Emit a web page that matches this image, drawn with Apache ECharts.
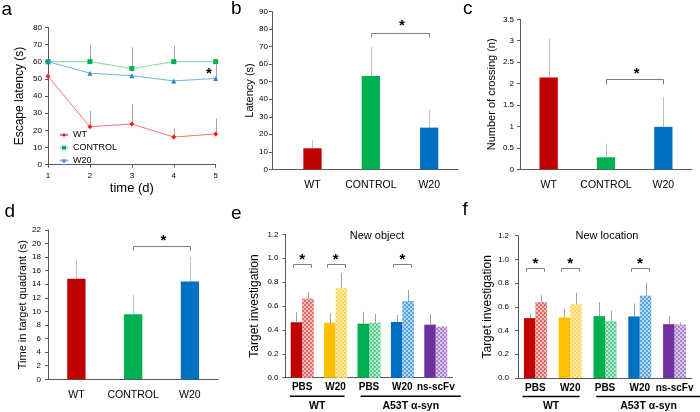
<!DOCTYPE html>
<html><head><meta charset="utf-8">
<script src="https://cdn.jsdelivr.net/npm/echarts@6/dist/echarts.min.js"></script>
<style>html,body{margin:0;padding:0;background:#fff}#c{width:700px;height:412px}</style>
</head><body><div id="c"></div>
<script>
// ================= DATA =================
// panel a: escape latency by day
const aDays = [1, 2, 3, 4, 5];
const aWT = [51.5, 22.1, 23.7, 16.1, 17.9];
const aWTErrTop = [51.5, 31.4, 35.2, 21.0, 27.0];
const aCTRL = [60, 60, 56, 60, 60];
const aCTRLErrTop = [60, 69.7, 68.4, 69.1, 60];
const aW20 = [60, 53.3, 51.8, 48.8, 50.2];
const aW20ErrTop = [60, 53.3, 51.8, 48.8, 60];
const aStar = [4.84, 55];
const aSeriesNames = ['WT', 'CONTROL', 'W20'];

// panels b, c, d
const barCats = ['WT', 'CONTROL', 'W20'];
const bVals = [12.0, 53.3, 23.8];
const bErrTop = [16.5, 69.8, 33.9];
const bBracket = [2, 3, 77.7, 75.2, 83.5];     // from, to, line, tick end, star
const cVals = [2.14, 0.28, 0.99];
const cErrTop = [3.04, 0.6, 1.69];
const cBracket = [1, 2, 2.1, 1.98, 2.31];
const dVals = [14.8, 9.6, 14.4];
const dErrTop = [17.7, 12.4, 18.0];
const dBracket = [1, 2, 19.64, 18.95, 20.8];

// panels e, f
const efCats = ['PBS', 'W20', 'PBS', 'W20', 'ns-scFv'];
const efGroups = ['WT', 'A53T α-syn'];
const efGroupSpan = [[0, 1], [2, 4]];
const eSolid = [0.464, 0.46, 0.452, 0.466, 0.444];
const eSolidErrTop = [0.547, 0.539, 0.552, 0.525, 0.533];
const eHatch = [0.661, 0.748, 0.46, 0.642, 0.427];
const eHatchErrTop = [0.715, 0.874, 0.533, 0.734, 0.433];
const eSig = [[0, 0.95, 0.92, 1.01], [1, 0.95, 0.92, 1.01], [3, 0.95, 0.92, 1.01]];
const fSolid = [0.505, 0.51, 0.522, 0.519, 0.454];
const fSolidErrTop = [0.538, 0.581, 0.64, 0.629, 0.522];
const fHatch = [0.64, 0.623, 0.479, 0.693, 0.451];
const fHatchErrTop = [0.699, 0.719, 0.566, 0.803, 0.468];
const fSig = [[0, 0.93, 0.897, 0.987], [1, 0.93, 0.897, 0.987], [3, 0.93, 0.897, 0.987]];

// ================= STYLE =================
const FONT = '"Liberation Sans", Arial, sans-serif';
const AX = '#595959';
const barColors = ['#c00000', '#00b050', '#0070c0'];
const efSolidColors = ['#c00000', '#ffc000', '#00b050', '#0070c0', '#7030a0'];
const efHatchColors = ['#e26a6a', '#ffd452', '#58cd8b', '#58a4de', '#a884cf'];
const EF_BW = 11.5;
const BRK_HALF = 9;
const GROUP_PAD = [[0.37, 0.27], [0.25, 0.75]];

const hatchDecal = {
  symbol: 'rect', symbolSize: 1, color: 'rgba(255,255,255,0.55)',
  dashArrayX: [[2, 2], [0, 2, 2, 0]], dashArrayY: [2, 0], rotation: 0
};

function crisp(v) { return Math.round(v) + 0.5; }

function errSeries(xi, items, color) {
  return {
    type: 'custom', xAxisIndex: xi, yAxisIndex: xi, z: 1, silent: true,
    encode: { x: 0, y: [1, 2] },
    data: items.filter(d => d[2] > d[1]),
    renderItem(params, api) {
      const p0 = api.coord([api.value(0), api.value(1)]);
      const p1 = api.coord([api.value(0), api.value(2)]);
      const x = crisp(p0[0] + api.value(3));
      return { type: 'line', shape: { x1: x, y1: p0[1], x2: x, y2: p1[1] },
        style: { stroke: color, lineWidth: 1 } };
    }
  };
}

function starText(x, y) {
  return { type: 'text', style: { text: '*', x: x, y: y + 3.2, fontSize: 15, fontWeight: 'bold',
    fontFamily: FONT, fill: '#000', align: 'center', verticalAlign: 'middle' } };
}

function bracketSeries(xi, items) {
  return {
    type: 'custom', xAxisIndex: xi, yAxisIndex: xi, z: 5, silent: true,
    encode: { x: [0, 1], y: [2, 3] },
    data: items,
    renderItem(params, api) {
      const a = api.coord([api.value(0), api.value(2)]);
      const b = api.coord([api.value(1), api.value(2)]);
      const t = api.coord([api.value(0), api.value(3)]);
      const s = api.coord([api.value(0), api.value(4)]);
      const y = crisp(a[1]);
      return { type: 'group', children: [
        { type: 'polyline', shape: { points: [[crisp(a[0]), t[1]], [crisp(a[0]), y], [crisp(b[0]), y], [crisp(b[0]), t[1]]] },
          style: { stroke: '#7f7f7f', lineWidth: 1, fill: null } },
        starText((a[0] + b[0]) / 2 + 2, s[1])
      ] };
    }
  };
}

function pairBracketSeries(xi, items) {
  return {
    type: 'custom', xAxisIndex: xi, yAxisIndex: xi, z: 5, silent: true,
    encode: { x: 0, y: [1, 2] },
    data: items,
    renderItem(params, api) {
      const c = api.coord([api.value(0), api.value(1)]);
      const t = api.coord([api.value(0), api.value(2)]);
      const s = api.coord([api.value(0), api.value(3)]);
      const y = crisp(c[1]);
      const x1 = crisp(c[0] - BRK_HALF), x2 = crisp(c[0] + BRK_HALF);
      return { type: 'group', children: [
        { type: 'polyline', shape: { points: [[x1, t[1]], [x1, y], [x2, y], [x2, t[1]]] },
          style: { stroke: '#7f7f7f', lineWidth: 1, fill: null } },
        starText(c[0], s[1])
      ] };
    }
  };
}

function groupSeries(xi) {
  return {
    type: 'custom', xAxisIndex: xi, yAxisIndex: xi, z: 5, silent: true,
    encode: { x: [0, 1] },
    data: efGroupSpan.map((s, i) => [s[0], s[1], i]),
    renderItem(params, api) {
      const i = api.value(2);
      const band = api.size([1, 0])[0];
      const a = api.coord([api.value(0), 0]);
      const b = api.coord([api.value(1), 0]);
      const x1 = a[0] - GROUP_PAD[i][0] * band, x2 = b[0] + GROUP_PAD[i][1] * band;
      const y0 = a[1];
      return { type: 'group', children: [
        { type: 'line', shape: { x1: x1, y1: y0 + 18.5, x2: x2, y2: y0 + 18.5 }, style: { stroke: '#000', lineWidth: 1.6 } },
        { type: 'text', style: { text: efGroups[i], x: (x1 + x2) / 2, y: y0 + 28.5, fontSize: 10.5, fontWeight: 'bold',
          fontFamily: FONT, fill: '#000', align: 'center', verticalAlign: 'middle' } }
      ] };
    }
  };
}

function yAx(gi, min, max, interval, name, nameGap, nameSize, margin, fmt) {
  return {
    type: 'value', gridIndex: gi, min: min, max: max, interval: interval,
    name: name, nameLocation: 'middle', nameGap: nameGap, nameRotate: 90,
    nameTextStyle: { fontSize: nameSize, color: '#000', fontFamily: FONT },
    axisLine: { show: true, lineStyle: { color: AX, width: 1 } },
    axisTick: { show: true, length: 3, lineStyle: { color: AX } },
    axisLabel: { fontSize: 8, color: '#000', margin: margin, fontFamily: FONT, formatter: fmt },
    splitLine: { show: false }
  };
}

function catX(gi, data, fontSize, margin, bold) {
  return {
    type: 'category', gridIndex: gi, data: data,
    axisLine: { show: true, lineStyle: { color: AX, width: 1 } },
    axisTick: { show: false },
    axisLabel: { fontSize: fontSize, color: '#000', margin: margin, fontFamily: FONT,
      fontWeight: bold ? 'bold' : 'normal', interval: 0 },
    splitLine: { show: false }
  };
}

function zip(xs, lo, hi, dx) { return xs.map((x, i) => [x, lo[i], hi[i], dx || 0]); }
const idx5 = [0, 1, 2, 3, 4];
const idx3 = [0, 1, 2];

function efBars(xi, solid, hatch) {
  return [
    { type: 'bar', xAxisIndex: xi, yAxisIndex: xi, barWidth: EF_BW, barGap: '0%', z: 2,
      data: solid.map((v, i) => ({ value: v, itemStyle: { color: efSolidColors[i] } })) },
    { type: 'bar', xAxisIndex: xi, yAxisIndex: xi, barWidth: EF_BW, barGap: '0%', z: 2,
      data: hatch.map((v, i) => ({ value: v, itemStyle: { color: efHatchColors[i], decal: hatchDecal } })) }
  ];
}

const letters = [['a', 1.5, 10], ['b', 231, 8.5], ['c', 463, 8.5], ['d', 4.5, 211.5], ['e', 231, 214], ['f', 462.5, 210]];

const option = {
  animation: false,
  textStyle: { fontFamily: FONT },
  grid: [
    { left: 48, top: 27.3, width: 167.7, height: 137.4 },
    { left: 272, top: 11.7, width: 186, height: 157.6 },
    { left: 520, top: 19.3, width: 172, height: 150 },
    { left: 48, top: 230, width: 170.3, height: 149.3 },
    { left: 285.5, top: 234.3, width: 167, height: 143.4 },
    { left: 518, top: 235.7, width: 174, height: 142.3 }
  ],
  title: [
    { text: 'New object', left: 372, top: 225, textAlign: 'center',
      textStyle: { fontSize: 11, fontWeight: 'normal', color: '#000', fontFamily: FONT } },
    { text: 'New location', left: 602, top: 225, textAlign: 'center',
      textStyle: { fontSize: 11, fontWeight: 'normal', color: '#000', fontFamily: FONT } }
  ],
  legend: {
    data: aSeriesNames, orient: 'vertical', left: 54, top: 125,
    itemWidth: 8, itemHeight: 5, itemGap: 2.7,
    textStyle: { fontSize: 9, color: '#000', lineHeight: 10, fontFamily: FONT }
  },
  xAxis: [
    { type: 'value', gridIndex: 0, min: 1, max: 5, interval: 1,
      name: 'time (d)', nameLocation: 'middle', nameGap: 17,
      nameTextStyle: { fontSize: 13, color: '#000', fontFamily: FONT },
      axisLine: { lineStyle: { color: AX } }, axisTick: { length: 3, lineStyle: { color: AX } },
      axisLabel: { fontSize: 8, color: '#000', margin: 7 }, splitLine: { show: false } },
    { type: 'value', gridIndex: 1, min: 0.306, max: 3.494,
      axisLine: { show: true, onZero: false, lineStyle: { color: AX } }, axisTick: { show: false },
      axisLabel: { fontSize: 10.5, color: '#000', margin: 10, customValues: [1, 2, 3],
        formatter: v => barCats[Math.round(v) - 1] || '' },
      splitLine: { show: false } },
    catX(2, barCats, 10.5, 10, false),
    catX(3, barCats, 10.5, 10, false),
    catX(4, efCats, 10, 5, true),
    catX(5, efCats, 10, 5, true)
  ],
  yAxis: [
    yAx(0, 0, 80, 10, 'Escape latency (s)', 22, 12, 6),
    yAx(1, 0, 90, 10, 'Latency (s)', 10, 11, 4),
    yAx(2, 0, 3.5, 0.5, 'Number of crossing (n)', 23, 11, 6),
    yAx(3, 0, 22, 2, 'Time in target quadrant (s)', 19, 11, 7),
    yAx(4, 0, 1.2, 0.2, 'Target investigation', 25, 12, 7, v => v.toFixed(1)),
    yAx(5, 0, 1.2, 0.2, 'Target investigation', 20, 12, 9, v => v.toFixed(1))
  ],
  graphic: letters.map(l => ({ type: 'text', left: l[1], top: l[2] - 9.5, z: 100,
    style: { text: l[0], fontSize: 19, fontFamily: FONT, fill: '#000' } })),
  series: [
    // panel a
    errSeries(0, zip(aDays, aWT, aWTErrTop), '#a6a6a6'),
    errSeries(0, zip(aDays, aCTRL, aCTRLErrTop), '#a6a6a6'),
    errSeries(0, zip(aDays, aW20, aW20ErrTop), '#a6a6a6'),
    { name: 'WT', type: 'line', xAxisIndex: 0, yAxisIndex: 0, z: 3,
      data: aDays.map((d, i) => [d, aWT[i]]), symbol: 'diamond', symbolSize: 5,
      itemStyle: { color: '#ff1a1a' }, lineStyle: { color: '#ff7070', width: 1 } },
    { name: 'CONTROL', type: 'line', xAxisIndex: 0, yAxisIndex: 0, z: 3,
      data: aDays.map((d, i) => [d, aCTRL[i]]), symbol: 'rect', symbolSize: 5,
      itemStyle: { color: '#00b050' }, lineStyle: { color: '#8fe0b0', width: 1.2 } },
    { name: 'W20', type: 'line', xAxisIndex: 0, yAxisIndex: 0, z: 3,
      data: aDays.map((d, i) => [d, aW20[i]]), symbol: 'triangle', symbolSize: 5,
      itemStyle: { color: '#2a84d8' }, lineStyle: { color: '#72b2ea', width: 1 } },
    { type: 'custom', xAxisIndex: 0, yAxisIndex: 0, z: 5, silent: true, data: [aStar],
      renderItem(p, api) { const s = api.coord([api.value(0), api.value(1)]); return starText(s[0], s[1]); } },
    // panel b
    { type: 'bar', xAxisIndex: 1, yAxisIndex: 1, barWidth: 18.3, z: 2,
      data: bVals.map((v, i) => ({ value: [i + 1, v], itemStyle: { color: barColors[i] } })) },
    errSeries(1, zip([1, 2, 3], bVals, bErrTop), '#bfbfbf'),
    bracketSeries(1, [bBracket]),
    // panel c
    { type: 'bar', xAxisIndex: 2, yAxisIndex: 2, barWidth: 18.3, z: 2,
      data: cVals.map((v, i) => ({ value: v, itemStyle: { color: barColors[i] } })) },
    errSeries(2, zip(idx3, cVals, cErrTop), '#bfbfbf'),
    bracketSeries(2, [cBracket]),
    // panel d
    { type: 'bar', xAxisIndex: 3, yAxisIndex: 3, barWidth: 18.3, z: 2,
      data: dVals.map((v, i) => ({ value: v, itemStyle: { color: barColors[i] } })) },
    errSeries(3, zip(idx3, dVals, dErrTop), '#bfbfbf'),
    bracketSeries(3, [dBracket]),
    // panel e
    ...efBars(4, eSolid, eHatch),
    errSeries(4, zip(idx5, eSolid, eSolidErrTop, -EF_BW / 2), '#a0a0a0'),
    errSeries(4, zip(idx5, eHatch, eHatchErrTop, EF_BW / 2), '#a0a0a0'),
    pairBracketSeries(4, eSig),
    groupSeries(4),
    // panel f
    ...efBars(5, fSolid, fHatch),
    errSeries(5, zip(idx5, fSolid, fSolidErrTop, -EF_BW / 2), '#a0a0a0'),
    errSeries(5, zip(idx5, fHatch, fHatchErrTop, EF_BW / 2), '#a0a0a0'),
    pairBracketSeries(5, fSig),
    groupSeries(5)
  ]
};

const chart = echarts.init(document.getElementById('c'));
chart.setOption(option);
</script>
</body></html>
